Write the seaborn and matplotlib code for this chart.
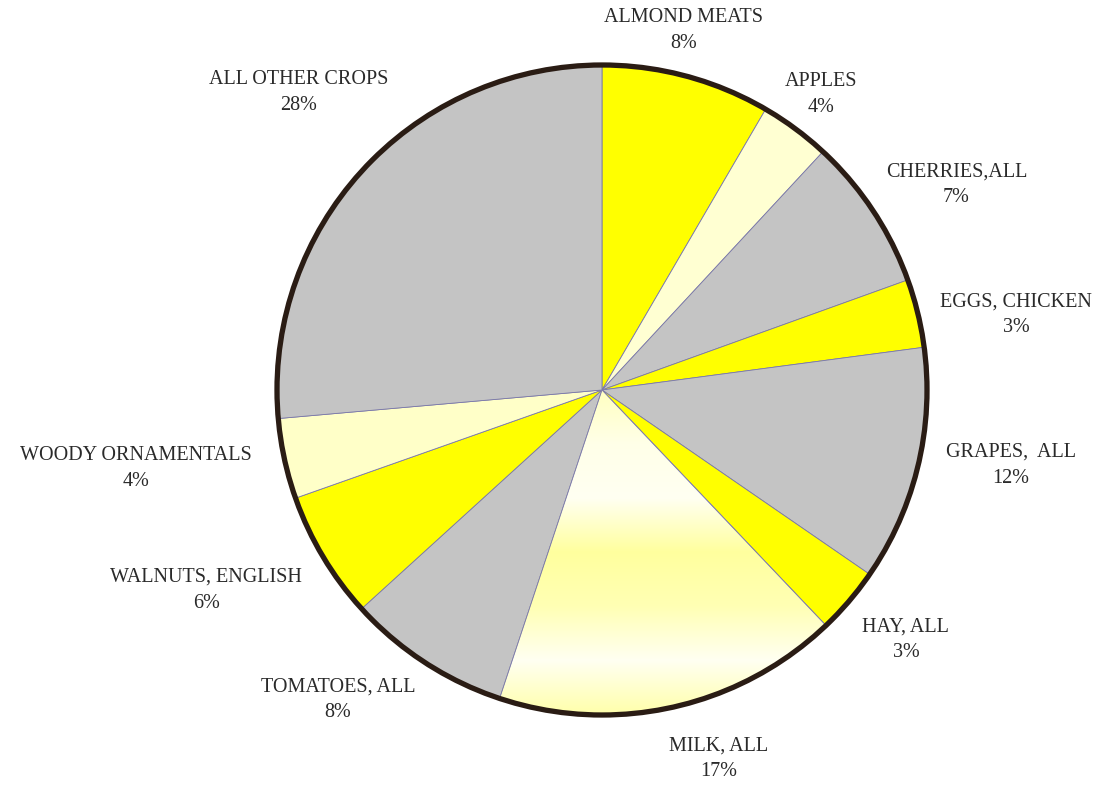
import numpy as np
import matplotlib.pyplot as plt
import seaborn as sns
from matplotlib.patches import Circle, Wedge
from matplotlib.colors import LinearSegmentedColormap

crops = ["ALMOND MEATS", "APPLES", "CHERRIES,ALL", "EGGS, CHICKEN", "GRAPES,  ALL",
         "HAY, ALL", "MILK, ALL", "TOMATOES, ALL", "WALNUTS, ENGLISH",
         "WOODY ORNAMENTALS", "ALL OTHER CROPS"]
# wedge sizes as drawn in the picture
shares = [8.4, 3.5, 7.6, 3.4, 11.7, 3.3, 17.2, 8.15, 6.35, 4.0, 26.4]
# percentages printed on the labels
printed = [8, 4, 7, 3, 12, 3, 17, 8, 6, 4, 28]

yellow = "#FFFF00"
gray = "#C4C4C4"
colors = [yellow, "#FFFFD2", gray, yellow, gray, yellow, "#FFFFB8", gray, yellow, "#FFFFC8", gray]

# label placement: angle nudge (deg) from wedge middle, and radius
label_nudge = [2.3, 0, -3.4, -3.4, 3.1, 1.1, 4.9, -7.4, -4.0, -2.7, -2.0]
label_radius = [1.135, 1.13, 1.26, 1.295, 1.28, 1.21, 1.19, 1.253, 1.365, 1.454, 1.308]

sns.set_theme(style="white")
plt.rcParams["font.family"] = ["Liberation Serif", "DejaVu Serif"]

fig = plt.figure(figsize=(10.95, 7.86), dpi=100)
ax = fig.add_axes([0, 0, 1, 1])

R = 325.0
cx, cy = 602, 390

wedges, _ = ax.pie(shares, colors=colors, startangle=90, counterclock=False,
                   radius=1.0, center=(0, 0), frame=True,
                   wedgeprops=dict(edgecolor="#7a78a8", linewidth=0.6))
ax.set_xlim(-cx / R, (1095 - cx) / R)
ax.set_ylim(-(786 - cy) / R, cy / R)
ax.set_aspect("equal")
ax.axis("off")

# soft banded fill for the milk wedge
milk = wedges[crops.index("MILK, ALL")]
cmap = LinearSegmentedColormap.from_list(
    "milk", ["#FFFFC0", "#FFFFE8", "#FFFFF2", "#FFFF9E", "#FFFFB4", "#FFFFF2", "#FFFFAA"])
grad = np.linspace(0, 1, 256).reshape(-1, 1)
im = ax.imshow(grad, cmap=cmap, extent=(-0.4, 0.8, -1.0, 0.0), aspect="auto",
               origin="upper", zorder=milk.get_zorder() + 0.1)
im.set_clip_path(milk)
ax.add_patch(Wedge((0, 0), 1.0, milk.theta1, milk.theta2, facecolor="none",
                   edgecolor="#7a78a8", linewidth=0.6, zorder=im.get_zorder() + 0.1))

ax.add_patch(Circle((0, 0), 1.0, fill=False, edgecolor="#2a1c14", linewidth=3.8, zorder=5))

for w, name, val, dn, r in zip(wedges, crops, printed, label_nudge, label_radius):
    mid = np.deg2rad((w.theta1 + w.theta2) / 2 + dn)
    ax.text(r * np.cos(mid), r * np.sin(mid), f"{name}\n{val}%", ha="center", va="center",
            fontsize=14.5, color="#2a2a2a", linespacing=1.5)

fig.savefig("out.png", dpi=100)
